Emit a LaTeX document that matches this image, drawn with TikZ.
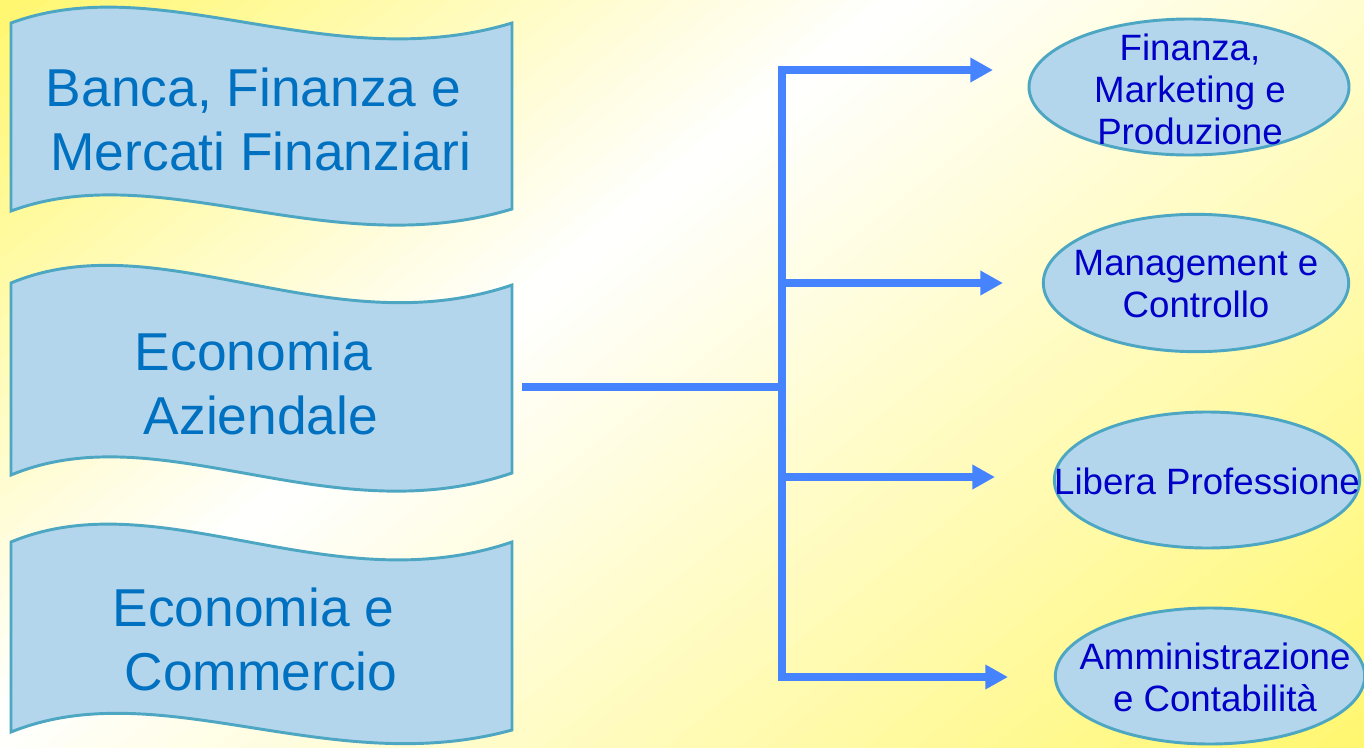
\documentclass[tikz,border=0pt]{standalone}
\usepackage{fontspec}
\setmainfont{Liberation Sans}
\usetikzlibrary{arrows.meta,shapes.geometric}

\definecolor{bgyellow}{RGB}{255,247,110}
\definecolor{wavefill}{RGB}{180,214,236}
\definecolor{waveedge}{RGB}{77,166,194}
\definecolor{wavetxt}{RGB}{0,112,192}
\definecolor{ovaltxt}{RGB}{0,0,200}
\definecolor{armblue}{RGB}{70,131,255}

\tikzset{
  wave/.style={draw=waveedge, fill=wavefill, line width=2.2pt},
  wavetext/.style={text=wavetxt, font=\fontsize{40}{48}\selectfont, align=center, inner sep=0pt},
  oval/.style={ellipse, draw=waveedge, fill=wavefill, line width=2.2pt, inner sep=0pt},
  ovaltext/.style={text=ovaltxt, font=\fontsize{27.5}{31.5}\selectfont, align=center, inner sep=0pt},
  arm/.style={draw=armblue, line width=5.6pt, line join=miter},
  armhead/.style={-{Triangle[length=17pt,width=17.5pt]}},
  armheads/.style={{Triangle[length=17pt,width=17.5pt]}-{Triangle[length=17pt,width=17.5pt]}}
}

\begin{document}
\begin{tikzpicture}[x=0.75pt,y=0.75pt,yscale=-1,xscale=1]
\useasboundingbox (0,0) rectangle (1364,747);

%Background wash
\begin{scope}
\clip (0,0) rectangle (1364,747);
\foreach \c in {0,20,...,1840} {
  \pgfmathsetmacro\mix{min(100,(\c<710) ? (710-\c)/7.2 : (\c-710)/11.2)}
  \fill[bgyellow!\mix!white] (-10,\c+8) -- (1400,\c-1120) -- (1400,\c-1098) -- (-10,\c+30) -- cycle;
}
\end{scope}

%Shape: Wave
\draw[wave] (11,23) .. controls (160,-32) and (330,78) .. (512,23) -- (512,209) .. controls (330,264) and (160,156) .. (11,211) -- cycle ;
%Shape: Wave
\draw[wave] (11,283) .. controls (160,221) and (330,347) .. (512,285) -- (512,473) .. controls (330,535) and (160,413) .. (11,475) -- cycle ;
%Shape: Wave
\draw[wave] (11,542) .. controls (160,480) and (330,604) .. (512,542) -- (512,730) .. controls (330,780) and (160,672) .. (11,732) -- cycle ;

% Text Node
\draw (261,119) node [wavetext] (bfm) {Banca, Finanza e\hspace*{0.28em}\\Mercati Finanziari};
% Text Node
\draw (261,383) node [wavetext] (ea) {Economia\hspace*{0.28em}\\Aziendale};
% Text Node
\draw (261,639) node [wavetext] (ec) {Economia e\hspace*{0.28em}\\Commercio};

%Shape: Ellipse
\draw (1189,87) node [oval, minimum width=240pt, minimum height=102pt] (fmp) {};
%Shape: Ellipse
\draw (1196,283) node [oval, minimum width=229pt, minimum height=103pt] (mc) {};
%Shape: Ellipse
\draw (1207,480) node [oval, minimum width=229pt, minimum height=102pt] (lp) {};
%Shape: Ellipse
\draw (1210,676) node [oval, minimum width=232pt, minimum height=102pt] (ac) {};

% Text Node
\draw (1190,89) node [ovaltext] (fmptxt) {Finanza,\\Marketing e\\Produzione};
% Text Node
\draw (1196,284) node [ovaltext] (mctxt) {Management e\\Controllo};
% Text Node
\draw (1207,481) node [ovaltext] (lptxt) {Libera Professione};
% Text Node
\draw (1215,677) node [ovaltext] (actxt) {Amministrazione\\e Contabilità};

\coordinate (eaout) at (522,387);
\coordinate (hub) at (782,387);
\coordinate (sptop) at (782,70);
\coordinate (spbot) at (782,677);
\coordinate (jn2) at (782,283);
\coordinate (jn3) at (782,477);
\coordinate (tip1) at (993,70);
\coordinate (tip2) at (1003,283);
\coordinate (tip3) at (995,477);
\coordinate (tip4) at (1008,677);

%Straight Lines
\draw[arm] (eaout) -- (hub);
%Straight Lines
\draw[arm, armheads] (tip1) -- (sptop) -- (spbot) -- (tip4);
%Straight Lines
\draw[arm, armhead] (jn2) -- (tip2);
%Straight Lines
\draw[arm, armhead] (jn3) -- (tip3);

\end{tikzpicture}
\end{document}
